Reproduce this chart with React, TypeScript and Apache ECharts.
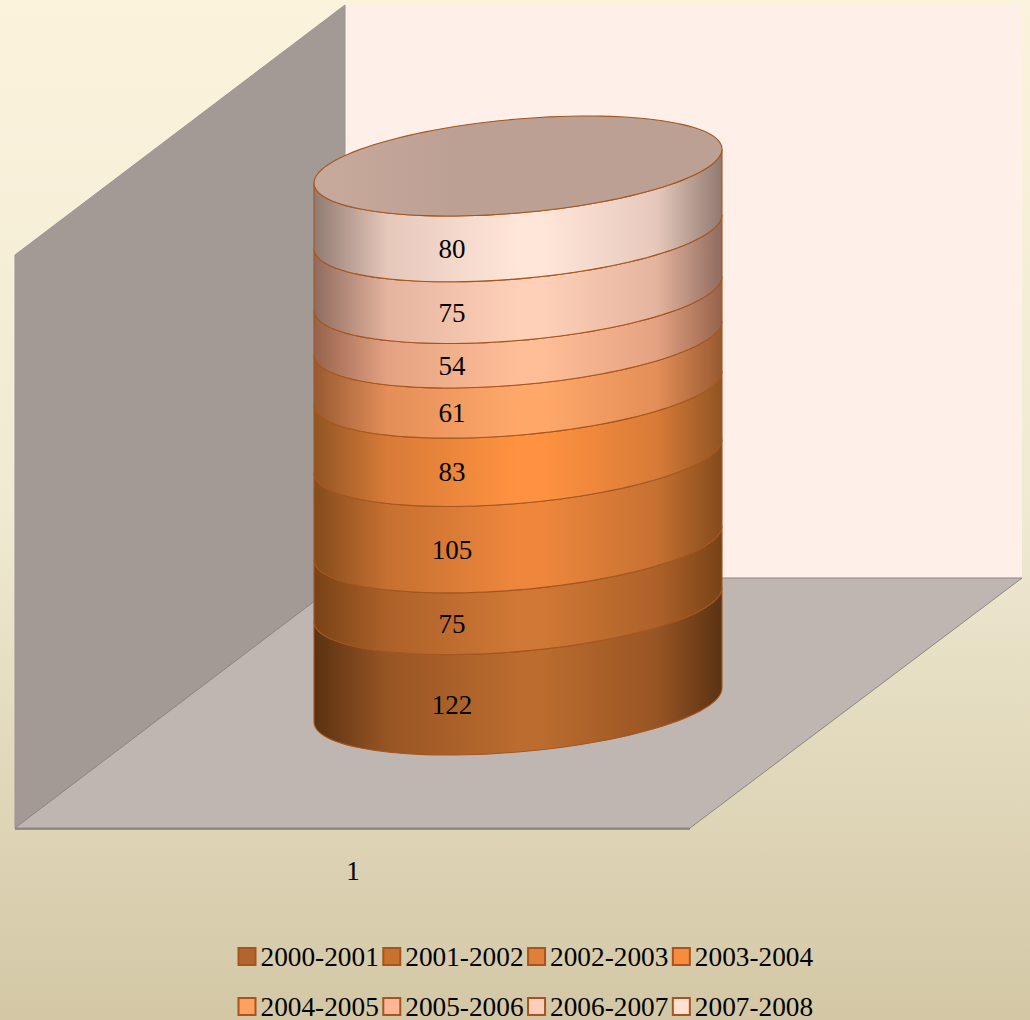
import React, { useEffect, useRef } from "react";
import * as echarts from "echarts";

const categories = ["1"];
const seriesNames = ["2000-2001", "2001-2002", "2002-2003", "2003-2004", "2004-2005", "2005-2006", "2006-2007", "2007-2008"];
const seriesValues = [122, 75, 105, 83, 61, 54, 75, 80];
const legendColors = ["#b3652d", "#c8722f", "#e07f38", "#f98c3c", "#ff9f60", "#ffb596", "#ffcdbc", "#ffe0d3"];
const centerColors = ["#bb6c2e", "#d07835", "#ee873c", "#ff9240", "#ffa86a", "#ffbe97", "#ffd0b8", "#ffe6d9"];
const midColors = ["#985524", "#ad6129", "#c67031", "#d87b37", "#e48e58", "#e4a282", "#e4b49e", "#e6c8bb"];
const edgeColors = ["#5a3212", "#784216", "#844b1c", "#905523", "#975a30", "#96624c", "#8f6b5e", "#907a70"];
const stroke = "#a5561f";

const FONT = '"Liberation Serif", serif';
const VALUE_MAX = 655;

function stackBase(i: number) {
  let s = 0;
  for (let k = 0; k < i; k++) s += seriesValues[k];
  return s;
}

function rim(cx: number, cy: number, a: number, from: number, to: number, steps: number) {
  const pts: number[][] = [];
  const skew = a * (17 / 204);
  const b = a * (47 / 204);
  for (let s = 0; s <= steps; s++) {
    const t = from + ((to - from) * s) / steps;
    pts.push([cx + a * Math.cos(t), cy - skew * Math.cos(t) + b * Math.sin(t)]);
  }
  return pts;
}

function makeSeries(i: number) {
  return {
    type: "custom",
    name: seriesNames[i],
    clip: false,
    silent: true,
    z: 3 + i,
    itemStyle: { color: legendColors[i] },
    encode: { x: 0, y: 1 },
    data: [[0, seriesValues[i]]],
    renderItem: (_p: any, api: any) => {
      const base = stackBase(i);
      const val = api.value(1);
      const p0 = api.coord([0, base]);
      const p1 = api.coord([0, base + val]);
      const a = api.size([1, 0])[0] / 2;
      const offs = a * (17 / 204);
      const cx = p0[0];
      const cyBot = p0[1] - offs;
      const cyTop = p1[1] - offs;
      const bottom = rim(cx, cyBot, a, 0, Math.PI, 60);
      const top = rim(cx, cyTop, a, Math.PI, 0, 60);
      const fill = new echarts.graphic.LinearGradient(0, 0, 1, 0, [
        { offset: 0, color: edgeColors[i] },
        { offset: 0.18, color: midColors[i] },
        { offset: 0.5, color: centerColors[i] },
        { offset: 0.56, color: centerColors[i] },
        { offset: 0.84, color: midColors[i] },
        { offset: 1, color: edgeColors[i] },
      ]);
      const children: any[] = [
        {
          type: "polygon",
          shape: { points: bottom.concat(top) },
          style: { fill, stroke, lineWidth: 1.1 },
        },
      ];
      if (i === seriesValues.length - 1) {
        children.push({
          type: "polygon",
          shape: { points: rim(cx, cyTop, a, 0, Math.PI * 2, 120) },
          style: {
            fill: new echarts.graphic.LinearGradient(0, 0, 1, 0, [
              { offset: 0, color: "#c8aa9c" },
              { offset: 0.35, color: "#bca093" },
              { offset: 1, color: "#bca093" },
            ]),
            stroke,
            lineWidth: 1.1,
          },
        });
      }
      const labelY = (p0[1] + p1[1]) / 2 + a * (33 / 204);
      children.push({
        type: "text",
        z2: 10,
        style: {
          text: String(val),
          x: cx - a * (66 / 204),
          y: labelY,
          textAlign: "center",
          textVerticalAlign: "middle",
          font: `27px ${FONT}`,
          fill: "#000",
        },
      });
      return { type: "group", children };
    },
  };
}

function makeLegend(names: string[], top: number) {
  return {
    left: 232.5,
    top,
    orient: "horizontal",
    itemWidth: 17,
    itemHeight: 17,
    itemGap: 3.5,
    selectedMode: false,
    textStyle: { fontFamily: FONT, fontSize: 27.3, color: "#000" },
    data: names.map((n) => ({
      name: n,
      icon: "rect",
      itemStyle: {
        color: legendColors[seriesNames.indexOf(n)],
        borderColor: "#a5551f",
        borderWidth: 2,
      },
    })),
  };
}

export default function App() {
  const ref = useRef<HTMLDivElement>(null);
  useEffect(() => {
    const chart = echarts.init(ref.current!, undefined, { renderer: "svg" });
    chart.setOption({
      animation: false,
      backgroundColor: new echarts.graphic.LinearGradient(0, 0, 0, 1, [
        { offset: 0, color: "#fcf3dd" },
        { offset: 0.5, color: "#f0ead2" },
        { offset: 1, color: "#d3c7a5" },
      ]),
      grid: { left: 314, top: 183, width: 408, height: 539, containLabel: false },
      xAxis: { type: "category", data: categories, show: false },
      yAxis: { type: "value", min: 0, max: VALUE_MAX, show: false },
      legend: [makeLegend(seriesNames.slice(0, 4), 938), makeLegend(seriesNames.slice(4), 988)],
      graphic: [
        {
          type: "polygon",
          z: 0,
          silent: true,
          shape: { points: [[345, 5], [1022, 5], [1022, 578], [345, 578]] },
          style: { fill: "#fef0e8" },
        },
        {
          type: "polygon",
          z: 0,
          silent: true,
          shape: { points: [[15, 255], [345, 5], [345, 578], [15, 828]] },
          style: { fill: "#a39a95", stroke: "#9a938f", lineWidth: 1 },
        },
        {
          type: "polygon",
          z: 1,
          silent: true,
          shape: { points: [[15, 828], [345, 578], [1022, 578], [690, 828]] },
          style: { fill: "#c0b6b1", stroke: "#8a8683", lineWidth: 1 },
        },
        {
          type: "line",
          z: 1,
          silent: true,
          shape: { x1: 15, y1: 829, x2: 690, y2: 829 },
          style: { stroke: "#7e7a76", lineWidth: 1.5 },
        },
        {
          type: "text",
          z: 2,
          silent: true,
          style: {
            text: categories[0],
            x: 353,
            y: 871,
            textAlign: "center",
            textVerticalAlign: "middle",
            font: `27px ${FONT}`,
            fill: "#000",
          },
        },
      ],
      series: seriesNames.map((_, i) => makeSeries(i)),
    });
    return () => chart.dispose();
  }, []);
  return <div ref={ref} style={{ position: "fixed", left: 0, top: 0, width: 1030, height: 1020 }} />;
}
